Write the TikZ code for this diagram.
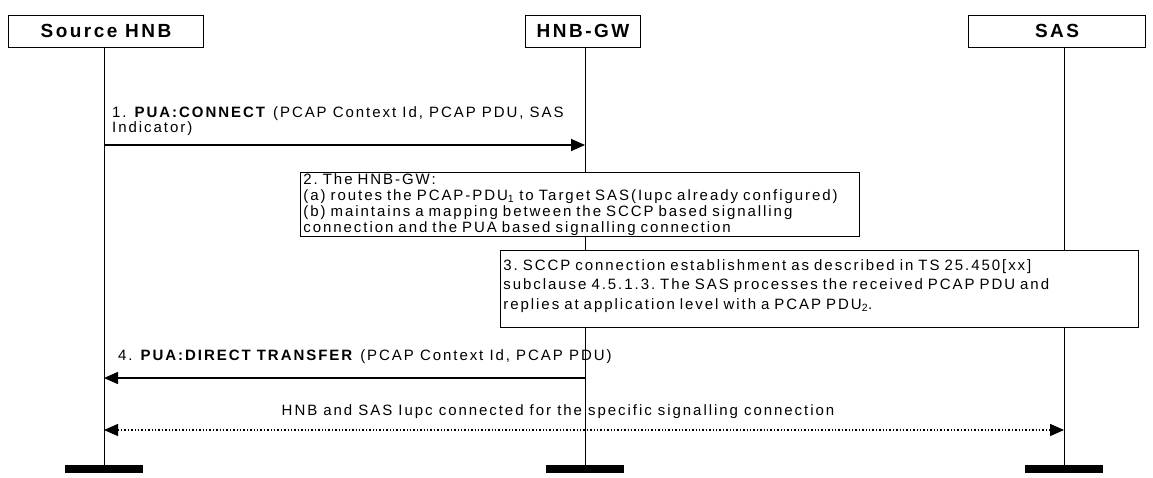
\documentclass[tikz,border=0pt]{standalone}
\usepackage{fontspec}
\setmainfont{Liberation Sans}[LetterSpace=13]
\usetikzlibrary{arrows.meta}
\frenchspacing

\begin{document}
\begin{tikzpicture}[x=1pt,y=-1pt]
 \tikzset{
  entity/.style={draw, line width=0.8pt, minimum height=32pt,
    inner sep=0pt, font=\fontsize{19}{21}\selectfont\bfseries},
  note/.style={draw, line width=0.8pt, align=left, anchor=north west,
    inner xsep=3pt, inner ysep=1pt, font=\fontsize{15}{16}\selectfont},
  msg/.style={line width=1.6pt, -{Triangle[length=14pt,width=12pt]}},
  msgtext/.style={align=left, inner sep=0pt, font=\fontsize{15}{15}\selectfont},
  lifeline/.style={line width=0.8pt},
  endbar/.style={fill=black, minimum width=78pt, minimum height=8pt, inner sep=0pt}
 }
 \useasboundingbox (0,0) rectangle (1153,478);

 % entities
 \node[entity, minimum width=195pt] (hnb) at (106,31) {Source HNB};
 \node[entity, minimum width=115pt] (gw)  at (583,31) {HNB-GW};
 \node[entity, minimum width=177pt] (sas) at (1057,31) {SAS};

 \node[endbar] (hnbend) at (104,469) {};
 \node[endbar] (gwend)  at (585,469) {};
 \node[endbar] (sasend) at (1064,469) {};

 \draw[lifeline] (hnbend |- hnb.south) -- (hnbend.north);
 \draw[lifeline] (gwend |- gw.south) -- (gwend.north);
 \draw[lifeline] (sasend |- sas.south) -- (sasend.north);

 % 1.
 \coordinate (m1a) at (hnbend |- 0,145);
 \coordinate (m1b) at (gwend |- 0,145);
 \node[msgtext, anchor=south west] (m1text) at (112,136)
   {1. \textbf{PUA:CONNECT} (PCAP Context Id, PCAP PDU, SAS\\Indicator)};
 \draw[msg] (m1a) -- (m1b);

 % 2.
 \node[note, text width=553pt, fill=white] (step2) at (300,172)
   {2. The HNB-GW:\\
    (a) routes the PCAP-PDU\textsubscript{1} to Target SAS(Iupc already configured)\\
    (b) maintains a mapping between the SCCP based signalling\\
    connection and the PUA based signalling connection};

 % 3.
 \node[note, text width=632pt, fill=white, inner ysep=9pt,
   font=\fontsize{15}{19.5}\selectfont] (step3) at (500,250)
   {3. SCCP connection establishment as described in TS 25.450[xx]\\
    subclause 4.5.1.3. The SAS processes the received PCAP PDU and\\
    replies at application level with a PCAP PDU\textsubscript{2}.\rule[-9pt]{0pt}{9pt}};

 % 4.
 \coordinate (m4a) at (gwend |- 0,378);
 \coordinate (m4b) at (hnbend |- 0,378);
 \node[msgtext, anchor=base west] (m4text) at (118,360)
   {4. \textbf{PUA:DIRECT TRANSFER} (PCAP Context Id, PCAP PDU)};
 \draw[msg] (m4a) -- (m4b);

 % Iupc
 \coordinate (iua) at (hnbend |- 0,430);
 \coordinate (iub) at (sasend |- 0,430);
 \node[msgtext, anchor=base] (iutext) at (558,415)
   {HNB and SAS Iupc connected for the specific signalling connection};
 \draw[line width=1.4pt, dotted,
   {Triangle[length=14pt,width=12pt]}-{Triangle[length=14pt,width=12pt]}] (iua) -- (iub);
\end{tikzpicture}
\end{document}
